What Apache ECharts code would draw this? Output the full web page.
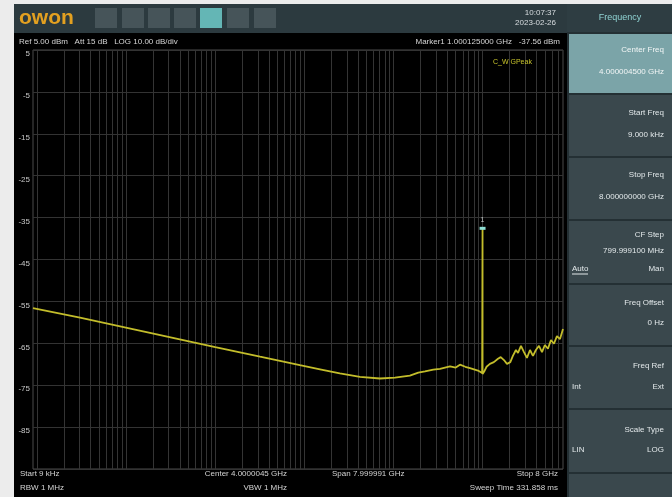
<!DOCTYPE html>
<html>
<head>
<meta charset="utf-8">
<script src="https://cdn.jsdelivr.net/npm/echarts@6/dist/echarts.min.js"></script>
<style>
  html, body { margin: 0; padding: 0; background: #ececec; }
  #c { width: 672px; height: 497px; }
</style>
</head>
<body>
<div id="c"></div>
<script>
// Swept trace: frequency in Hz and level in dBm
const traceFreq = [
  9.0e3, 3.03e4, 1.85e5, 1.0e6, 3.18e6, 8.9e6, 1.5e7, 2.5e7, 4.21e7, 7.05e7,
  1.04e8, 1.53e8, 1.9e8, 2.26e8, 2.8e8, 3.33e8, 4.31e8, 5.0e8, 5.58e8, 6.4e8,
  7.23e8, 8.88e8, 9.9e8, 0.9996e9, 1.000125e9, 1.0007e9, 1.04e9, 1.11e9, 1.21e9,
  1.34e9, 1.49e9, 1.60e9, 1.74e9, 1.88e9, 2.05e9, 2.19e9, 2.37e9, 2.50e9,
  2.70e9, 2.92e9, 3.15e9, 3.41e9, 3.68e9, 3.97e9, 4.30e9, 4.65e9, 5.01e9,
  5.42e9, 5.86e9, 6.33e9, 6.84e9, 7.40e9, 8.0e9
];
const traceLevel = [
  -56.6, -58.9, -62.5, -65.9, -68.2, -70.2, -71.2, -72.2, -73.0, -73.4,
  -73.2, -72.7, -72.0, -71.7, -71.3, -71.1, -70.5, -70.8, -70.1, -70.6,
  -70.9, -71.5, -72.1, -72.0, -37.56, -72.3, -71.8, -70.6, -69.9,
  -69.5, -68.7, -68.3, -69.0, -69.9, -69.5, -68.0, -66.6, -67.3,
  -65.6, -67.1, -68.5, -66.6, -68.0, -66.6, -65.6, -67.1, -65.4,
  -66.3, -64.2, -65.1, -63.3, -64.0, -61.6
];

// Amplitude scale (dBm), 10 dB/div from the 5 dBm reference
const levelTicks = [5, -5, -15, -25, -35, -45, -55, -65, -75, -85];
const levelMin = -95;
const levelMax = 5;

// Frequency span and log graticule (1..9 per decade)
const spanStart = 9e3;
const spanStop = 8e9;
const decades = [1e3, 1e4, 1e5, 1e6, 1e7, 1e8, 1e9];
const decadeSteps = [1, 2, 3, 4, 5, 6, 7, 8, 9];

// Marker 1
const markerFreq = 1.000125e9;
const markerLevel = -37.56;

const gridFreqs = [];
decades.forEach(d => decadeSteps.forEach(m => {
  const f = d * m;
  if (f > spanStart && f < spanStop) gridFreqs.push(f);
}));

const FONT = '"Liberation Sans", Arial, sans-serif';
function T(text, x, y, o) {
  o = o || {};
  return {
    type: 'text', x: x, y: y, z: 10, silent: true,
    style: {
      text: text,
      fill: o.color || '#d4d4d4',
      font: (o.weight || 'normal') + ' ' + (o.size || 8) + 'px ' + FONT,
      align: o.align || 'left',
      verticalAlign: 'middle'
    }
  };
}
function R(x, y, w, h, fill) {
  return { type: 'rect', silent: true, z: -10, shape: { x: x, y: y, width: w, height: h }, style: { fill: fill } };
}

const panel = [
  R(14, 4, 553, 29, '#2c3a3f'),
  R(14, 33, 553, 464, '#000000'),
  R(567, 4, 105, 493, '#243034'),
  R(567, 4, 105, 28, '#2e3d42'),
  R(569, 34, 103, 59, '#7ba4a8'),
  R(569, 95, 103, 61, '#3a484d'),
  R(569, 158, 103, 61, '#3a484d'),
  R(569, 221, 103, 62, '#3a484d'),
  R(569, 285, 103, 60, '#3a484d'),
  R(569, 347, 103, 61, '#3a484d'),
  R(569, 410, 103, 62, '#3a484d'),
  R(569, 474, 103, 23, '#3a484d')
];
// toolbar icons
[[95, '#465459'], [122, '#465459'], [148, '#465459'], [174, '#465459'], [200, '#64b6b5'], [227, '#465459'], [254, '#465459']]
  .forEach(([x, c]) => panel.push(R(x, 8, 22, 20, c)));

const texts = [
  T('owon', 19, 18, { color: '#e3a020', size: 21, weight: 'bold' }),
  T('10:07:37', 556, 13, { align: 'right', color: '#d8dde0' }),
  T('2023-02-26', 556, 23, { align: 'right', color: '#d8dde0' }),
  T('Ref 5.00 dBm   Att 15 dB   LOG 10.00 dB/div', 19, 42),
  T('Marker1 1.000125000 GHz   -37.56 dBm', 560, 42, { align: 'right' }),
  T('C_W GPeak', 493, 62, { color: '#c8c42c', size: 7 }),
  T('Start 9 kHz', 20, 474),
  T('Center 4.0000045 GHz', 287, 474, { align: 'right' }),
  T('Span 7.999991 GHz', 332, 474),
  T('Stop 8 GHz', 558, 474, { align: 'right' }),
  T('RBW 1 MHz', 20, 488),
  T('VBW 1 MHz', 287, 488, { align: 'right' }),
  T('Sweep Time 331.858 ms', 558, 488, { align: 'right' }),
  // soft-key menu
  T('Frequency', 620, 18, { align: 'center', color: '#8fd2d2', size: 9 }),
  T('Center Freq', 664, 50, { align: 'right', color: '#f2f6f6' }),
  T('4.000004500 GHz', 664, 72, { align: 'right', color: '#f2f6f6' }),
  T('Start Freq', 664, 113, { align: 'right', color: '#e2e8ea' }),
  T('9.000 kHz', 664, 135, { align: 'right', color: '#e2e8ea' }),
  T('Stop Freq', 664, 175, { align: 'right', color: '#e2e8ea' }),
  T('8.000000000 GHz', 664, 197, { align: 'right', color: '#e2e8ea' }),
  T('CF Step', 664, 235, { align: 'right', color: '#e2e8ea' }),
  T('799.999100 MHz', 664, 251, { align: 'right', color: '#e2e8ea' }),
  T('Auto', 572, 269, { color: '#e2e8ea' }),
  T('Man', 664, 269, { align: 'right', color: '#e2e8ea' }),
  T('Freq Offset', 664, 303, { align: 'right', color: '#e2e8ea' }),
  T('0 Hz', 664, 323, { align: 'right', color: '#e2e8ea' }),
  T('Freq Ref', 664, 366, { align: 'right', color: '#e2e8ea' }),
  T('Int', 572, 387, { color: '#e2e8ea' }),
  T('Ext', 664, 387, { align: 'right', color: '#e2e8ea' }),
  T('Scale Type', 664, 430, { align: 'right', color: '#e2e8ea' }),
  T('LIN', 572, 450, { color: '#e2e8ea' }),
  T('LOG', 664, 450, { align: 'right', color: '#e2e8ea' })
];
// underline of the active "Auto" choice
texts.push({ type: 'line', z: 10, silent: true, shape: { x1: 572, y1: 274, x2: 588, y2: 274 }, style: { stroke: '#e2e8ea', lineWidth: 1 } });

const chart = echarts.init(document.getElementById('c'), null, { renderer: 'canvas' });
chart.setOption({
  animation: false,
  backgroundColor: 'transparent',
  graphic: { elements: panel.concat(texts) },
  grid: {
    left: 33, top: 50, width: 530, height: 419,
    show: true, borderColor: '#4a4a4a', borderWidth: 1, backgroundColor: 'transparent'
  },
  xAxis: {
    type: 'log', logBase: 10, min: spanStart, max: spanStop,
    axisLine: { show: false }, axisTick: { show: false },
    axisLabel: { show: false }, splitLine: { show: false }
  },
  yAxis: {
    type: 'value', min: levelMin, max: levelMax, interval: 10,
    axisLine: { show: false }, axisTick: { show: false },
    splitLine: { show: true, lineStyle: { color: '#333333', width: 1 } },
    axisLabel: {
      show: true, margin: 3, fontSize: 8, fontFamily: FONT, color: '#c8c8c8',
      verticalAlign: 'top',
      formatter: v => levelTicks.indexOf(v) >= 0 ? String(v) : ''
    }
  },
  series: [
    {
      type: 'line', data: [], z: 1, silent: true,
      markLine: {
        z: 1, silent: true, symbol: ['none', 'none'], animation: false,
        label: { show: false },
        lineStyle: { color: '#343434', type: 'solid', width: 1 },
        data: gridFreqs.map(f => ({ xAxis: f }))
      }
    },
    {
      type: 'line', z: 3,
      data: traceFreq.map((f, i) => [f, traceLevel[i]]),
      showSymbol: false, symbol: 'none',
      lineStyle: { color: '#c3bd2b', width: 1.8 },
      markPoint: {
        z: 6, silent: true, animation: false,
        symbol: 'rect', symbolSize: [6, 3],
        itemStyle: { color: '#8fe0d6' },
        label: { show: true, position: 'top', distance: 3, formatter: '1', color: '#bfc4c4', fontSize: 7, fontFamily: FONT },
        data: [{ coord: [markerFreq, markerLevel] }]
      }
    }
  ]
});
</script>
</body>
</html>
